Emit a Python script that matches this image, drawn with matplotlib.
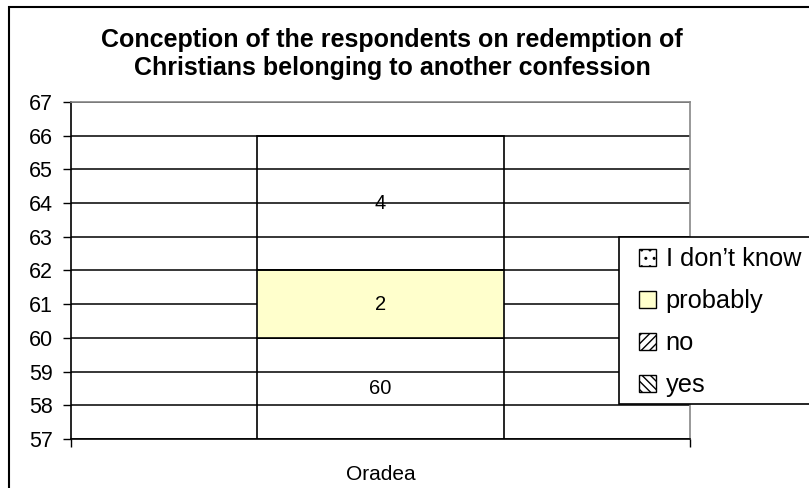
import matplotlib
matplotlib.use('Agg')
import matplotlib.pyplot as plt
from matplotlib.patches import Patch, Rectangle

plt.rcParams['font.family'] = ['Liberation Sans', 'DejaVu Sans']
plt.rcParams['hatch.linewidth'] = 1.0

# data
categories = ['Oradea']
series_names = ['yes', 'no', 'probably', "I don\u2019t know"]
series_values = [[60], [0], [2], [4]]
series_colors = ['none', 'none', '#FFFFCC', 'none']
legend_hatches = ['\\\\\\\\', '////', '', '..']
legend_faces = ['white', 'white', '#FFFFCC', 'white']
yticks = list(range(57, 68))

fig = plt.figure(figsize=(8.09, 4.88), dpi=100)
ax = fig.add_axes([0.0878, 0.1004, 0.765, 0.6906])

x = list(range(len(categories)))
bottom = [0] * len(categories)
for name, vals, col in zip(series_names, series_values, series_colors):
    ax.bar(x, vals, bottom=bottom, width=0.4, color=col, edgecolor='black',
           linewidth=1.2, zorder=3)
    for i, v in enumerate(vals):
        if v > 0:
            lo = max(bottom[i], yticks[0])
            hi = min(bottom[i] + v, yticks[-1])
            ax.text(x[i], (lo + hi) / 2, str(v), ha='center', va='center',
                    fontsize=14.5, zorder=5)
    bottom = [b + v for b, v in zip(bottom, vals)]

ax.set_ylim(yticks[0], yticks[-1])
ax.set_yticks(yticks)
ax.tick_params(axis='y', labelsize=15.5, direction='out', length=6, width=1,
               pad=7)
ax.yaxis.grid(True, color='black', linewidth=1.1, zorder=0)
ax.set_axisbelow(True)

ax.set_xlim(-0.5, 0.5)
ax.set_xticks([-0.5, 0.5])
ax.set_xticklabels(['', ''])
ax.tick_params(axis='x', direction='out', length=6, width=1)
ax.set_xticks(x, minor=True)
ax.set_xticklabels(categories, minor=True)
ax.tick_params(axis='x', which='minor', length=0, labelsize=15, pad=19)

ax.spines['left'].set_color('black')
ax.spines['bottom'].set_color('black')
ax.spines['top'].set_color('#888888')
ax.spines['right'].set_color('#888888')
for s in ax.spines.values():
    s.set_linewidth(1.2)

fig.text(0.485, 0.889, 'Conception of the respondents on redemption of\n'
         'Christians belonging to another confession',
         ha='center', va='center', fontsize=18, fontweight='bold',
         linespacing=1.2)

# legend: entries without frame, box drawn separately
handles = []
for name, fc, h in zip(series_names, legend_faces, legend_hatches):
    handles.append(Patch(facecolor=fc, edgecolor='black', hatch=h, label=name))
leg = fig.legend(handles[::-1], series_names[::-1], loc='upper left',
                 bbox_to_anchor=(639 / 809, 1 - 247 / 488), fontsize=18.3,
                 frameon=False, handlelength=0.65, handleheight=0.65,
                 handletextpad=0.4, labelspacing=0.71, borderpad=0,
                 borderaxespad=0)
leg.set_zorder(6)
fig.patches.append(Rectangle((619 / 809, 1 - 404 / 488), 0.3, 167 / 488,
                             transform=fig.transFigure, facecolor='white',
                             edgecolor='black', linewidth=1.2, zorder=5))

fig.patches.append(Rectangle((9 / 809, -0.05), 1.1, 1 - 7 / 488 + 0.05,
                             transform=fig.transFigure, fill=False,
                             edgecolor='black', linewidth=1.5))

fig.savefig('out.png', dpi=100)
